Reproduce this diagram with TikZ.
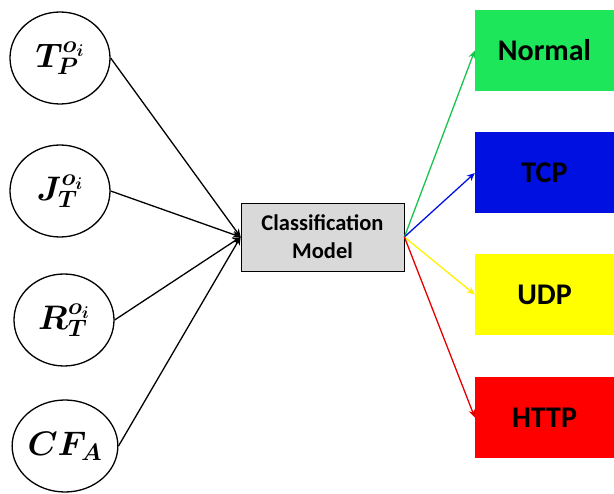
\RequirePackage{fix-cm}
\documentclass[tikz,border=0pt]{standalone}
\usepackage{fontspec}
\usepackage{bm}
\newfontfamily\boxfont{Carlito}
\usetikzlibrary{arrows.meta,positioning,shapes.geometric}

\definecolor{normalgreen}{RGB}{30,230,90}
\definecolor{tcpblue}{RGB}{0,16,225}
\definecolor{udpyellow}{RGB}{255,255,0}
\definecolor{httpred}{RGB}{255,0,0}
\definecolor{modelgray}{RGB}{217,217,217}

\begin{document}
\begin{tikzpicture}[x=1pt,y=-1pt,
  feature/.style={ellipse,draw,line width=1.3pt,minimum width=100pt,minimum height=92pt,
    inner sep=0pt,font=\fontsize{34}{40}\selectfont},
  classbox/.style={minimum width=139pt,minimum height=81pt,inner sep=0pt,
    font=\boxfont\bfseries\fontsize{30}{36}\selectfont},
  link/.style={line width=1.3pt,-{Stealth[length=8pt,width=7pt]}}]
  \pgfmathsetmacro {\bx}{544.5} %class box centre x
  \useasboundingbox (0,0) rectangle (614,494) ; %page size

  %Draw the input features
  \node[feature] (tp) at (60,58) {$\bm{T^{o_i}_{P}}$} ;
  \node[feature] (jt) at (60,191) {$\bm{J^{o_i}_{T}}$} ;
  \node[feature] (rt) at (64,320) {$\bm{R^{o_i}_{T}}$} ;
  \node[feature] (cf) at (65,446) {$\bm{CF_{A}}$} ;

  %Model in the middle
  \node[draw,fill=modelgray,line width=0.8pt,minimum width=163pt,minimum height=68pt,
    align=center,font=\boxfont\bfseries\fontsize{22.5}{28}\selectfont]
    (cm) at (322.5,237) {Classification\\Model} ;

  %Output classes
  \node[classbox,fill=normalgreen] (normal) at (\bx,50.5) {Normal} ;
  \node[classbox,fill=tcpblue] (tcp) at (\bx,173) {TCP} ;
  \node[classbox,fill=udpyellow] (udp) at (\bx,294.5) {UDP} ;
  \node[classbox,fill=httpred] (http) at (\bx,417.5) {HTTP} ;

  %Features into the model
  \draw[link] (tp.east) -- (cm.west) ;
  \draw[link] (jt.east) -- (cm.west) ;
  \draw[link] (rt.east) -- (cm.west) ;
  \draw[link] (cf.east) -- (cm.west) ;

  %Model out to the classes
  \draw[link,normalgreen!85!black] (cm.east) -- (normal.west) ;
  \draw[link,tcpblue] (cm.east) -- (tcp.west) ;
  \draw[link,udpyellow!90!orange] (cm.east) -- (udp.west) ;
  \draw[link,httpred!90!black] (cm.east) -- (http.west) ;
\end{tikzpicture}
\end{document}
